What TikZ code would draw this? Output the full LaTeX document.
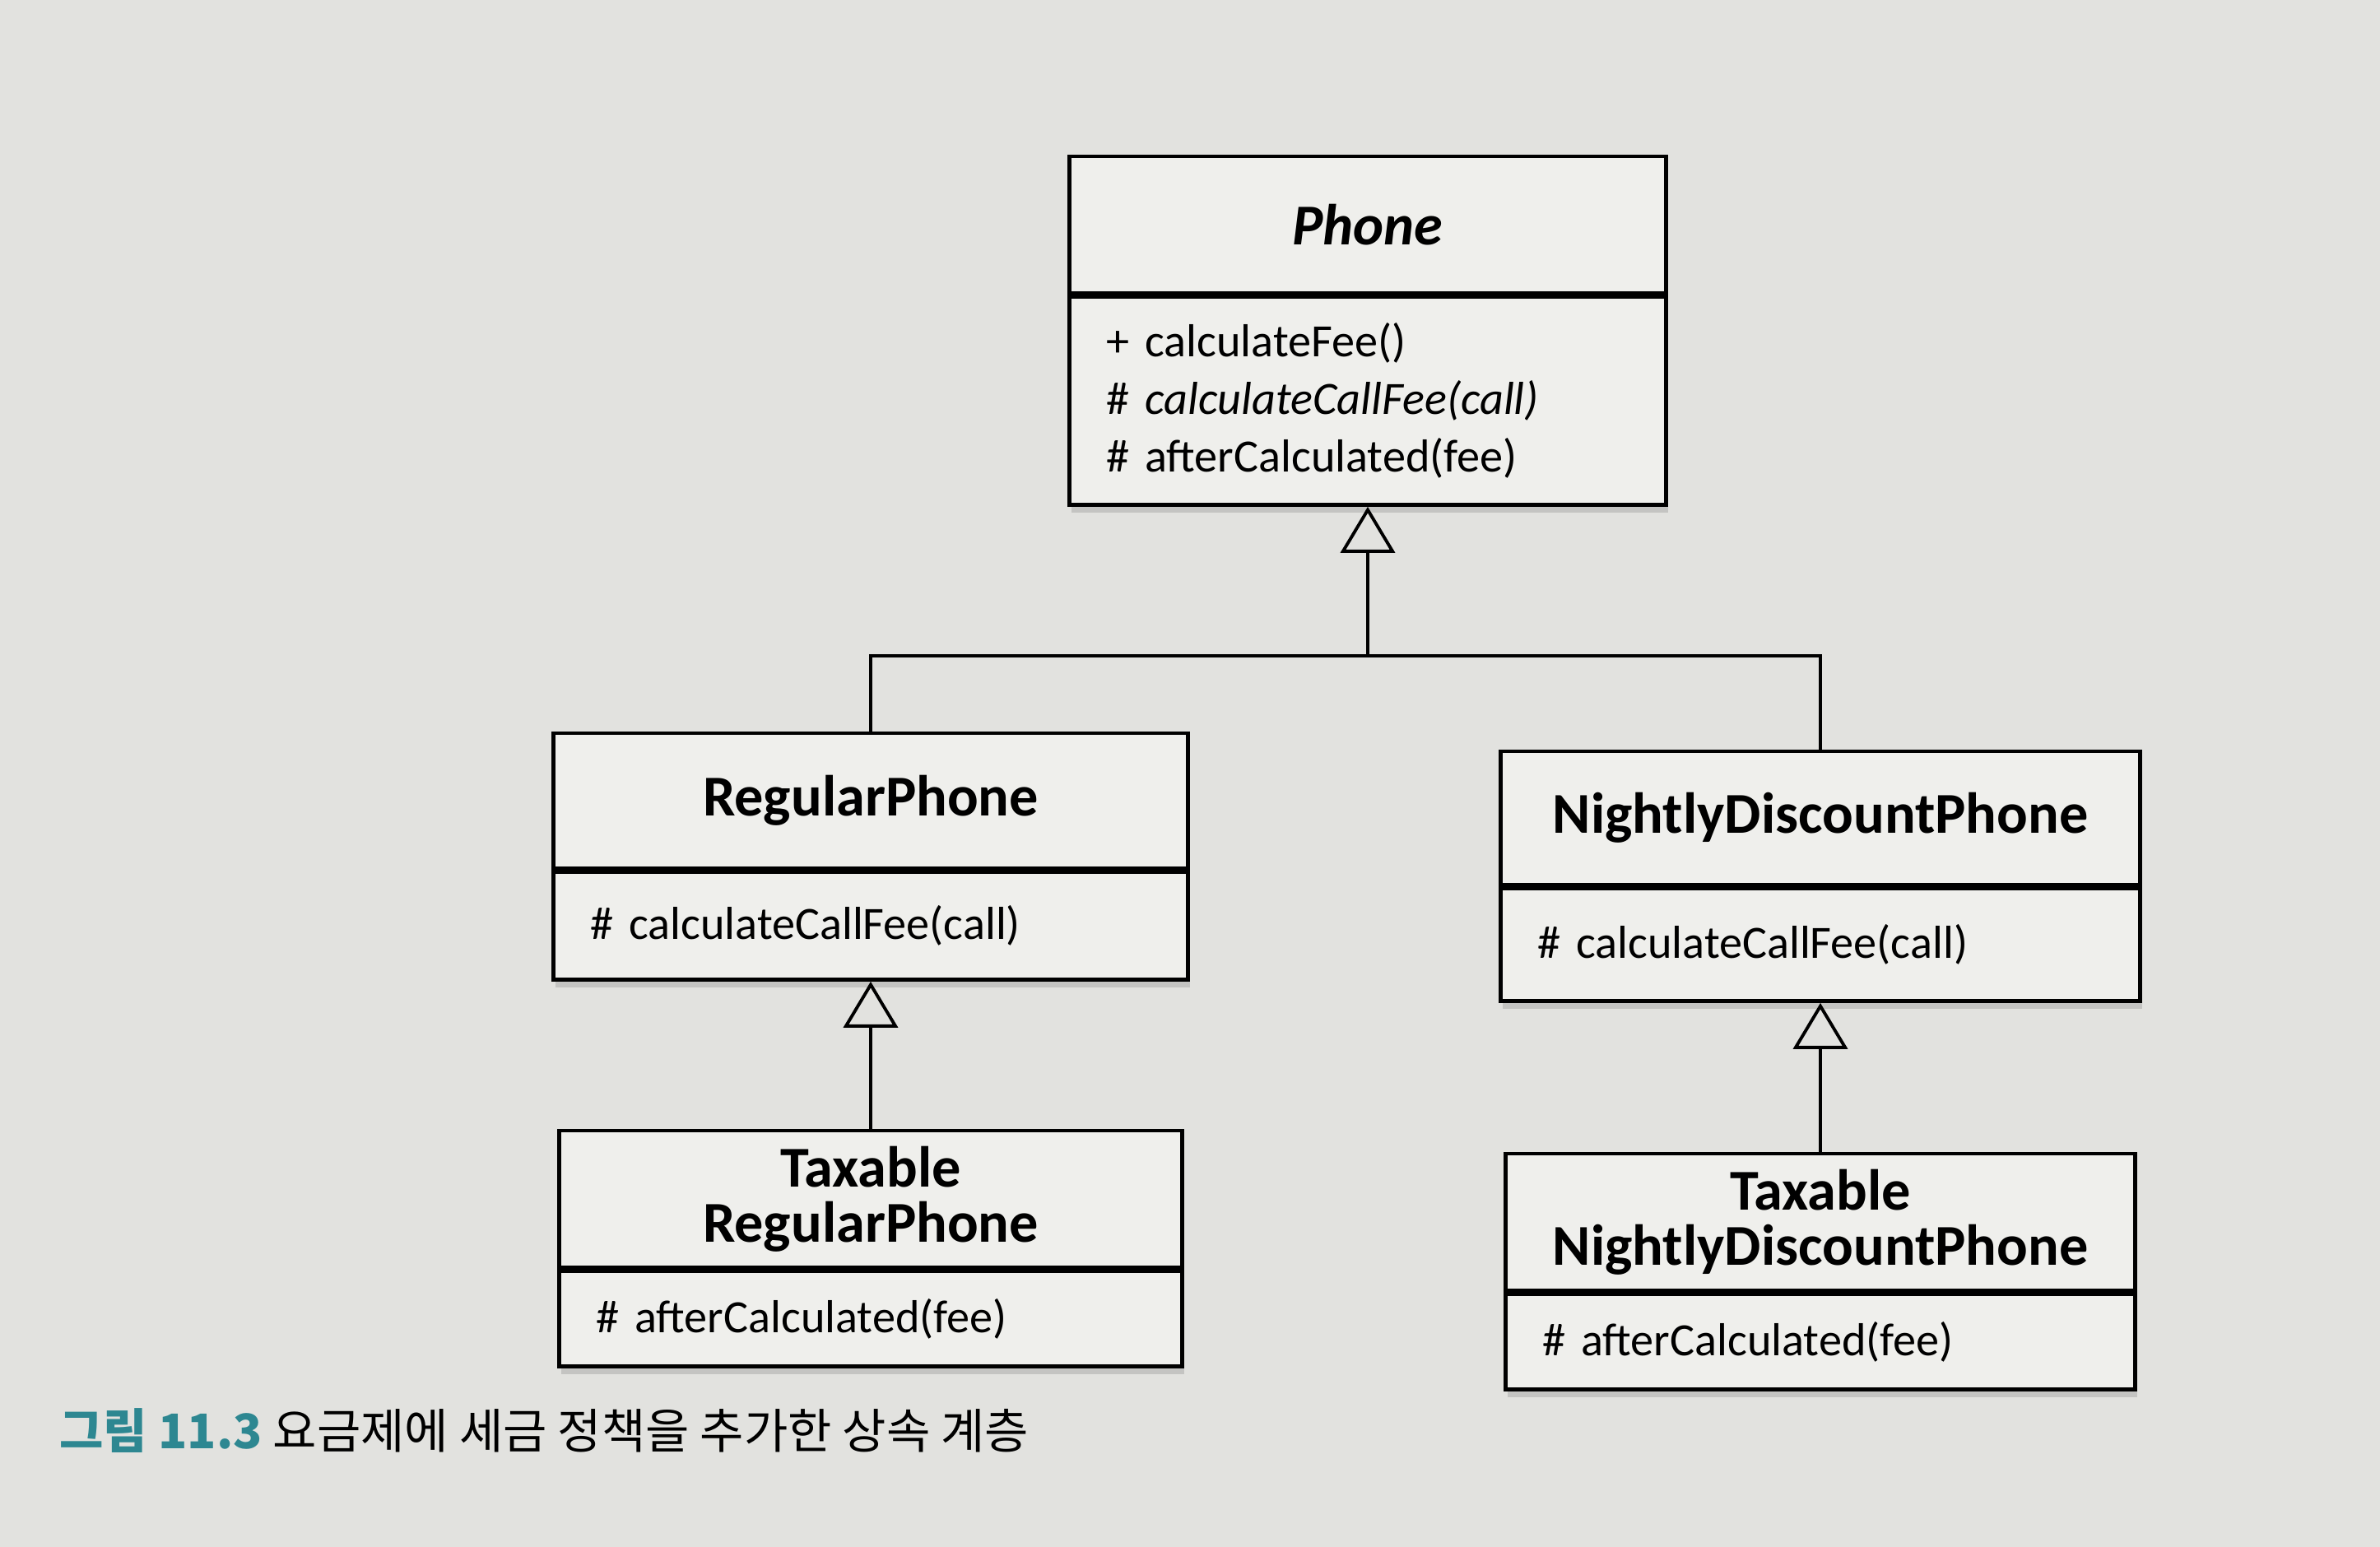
\documentclass[tikz,border=0pt]{standalone}
\usepackage{fontspec}
\setmainfont{Carlito}
\newfontfamily\krfont{Noto Sans CJK KR}
\usetikzlibrary{positioning,arrows.meta,shadows}
\definecolor{paper}{RGB}{226,226,223}
\definecolor{boxfill}{RGB}{239,239,236}
\definecolor{figteal}{RGB}{45,135,145}

\begin{document}
\begin{tikzpicture}[
    head/.style={draw, line width=1.3pt, fill=boxfill, align=center, inner sep=0pt,
      font=\fontsize{20}{19}\selectfont\bfseries},
    body/.style={draw, line width=1.3pt, fill=boxfill, align=left, inner ysep=0pt, inner xsep=0.45cm,
      font=\fontsize{16}{20}\selectfont, drop shadow={opacity=0.3, shadow xshift=0.02cm, shadow yshift=-0.09cm}},
    inherit/.style={line width=0.9pt, -{Triangle[open, length=0.56cm, width=0.66cm, line width=1.1pt]}}
  ]
  \path[use as bounding box, fill=paper] (0,0) rectangle (28.92,18.80);

  % classes
  \node[head, minimum width=7.25cm, minimum height=1.66cm] (phone) at (16.62,16.07) {\itshape Phone};
  \node[body, text width=6.35cm, minimum height=2.53cm, below=0pt of phone] (phonem)
    {+ calculateFee()\\ \# \textit{calculateCallFee(call)}\\ \# afterCalculated(fee)};

  \node[head, minimum width=7.71cm, minimum height=1.64cm] (regular) at (10.58,9.07) {RegularPhone};
  \node[body, text width=6.81cm, minimum height=1.31cm, below=0pt of regular] (regularm)
    {\# calculateCallFee(call)};

  \node[head, minimum width=7.77cm, minimum height=1.62cm] (night) at (22.12,8.86) {NightlyDiscountPhone};
  \node[body, text width=6.87cm, minimum height=1.37cm, below=0pt of night] (nightm)
    {\# calculateCallFee(call)};

  \node[head, minimum width=7.57cm, minimum height=1.66cm] (tregular) at (10.58,4.23) {Taxable\\RegularPhone};
  \node[body, text width=6.67cm, minimum height=1.16cm, below=0pt of tregular] (tregularm)
    {\# afterCalculated(fee)};

  \node[head, minimum width=7.65cm, minimum height=1.66cm] (tnight) at (22.12,3.95) {Taxable\\NightlyDiscountPhone};
  \node[body, text width=6.75cm, minimum height=1.16cm, below=0pt of tnight] (tnightm)
    {\# afterCalculated(fee)};

  % inheritance
  \coordinate (split) at (16.62,10.83);
  \draw[line width=0.9pt] (regular.north) |- (split) -| (night.north);
  \draw[inherit] (split) -- (phonem);
  \draw[inherit] (tregular) -- (regularm);
  \draw[inherit] (tnight) -- (nightm);

  \node[anchor=base west, font=\krfont\fontsize{16.5}{18}\selectfont] (caption) at (0.60,1.19)
    {\textcolor{figteal}{\bfseries 그림 11.3} 요금제에 세금 정책을 추가한 상속 계층};
\end{tikzpicture}
\end{document}
